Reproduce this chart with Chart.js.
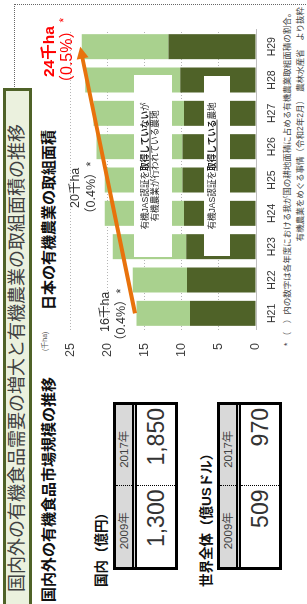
<!DOCTYPE html>
<html lang="ja">
<head>
<meta charset="utf-8">
<title>国内外の有機食品需要の増大と有機農業の取組面積の推移</title>
<script src="https://cdn.jsdelivr.net/npm/chart.js@4.4.1/dist/chart.umd.min.js"></script>
<style>
  html, body { margin: 0; padding: 0; background: #fff; }
  body {
    width: 307px; height: 604px; overflow: hidden; position: relative;
    font-family: "Liberation Sans", "Noto Sans CJK JP", sans-serif; color: #333;
  }
  /* the slide is landscape, shown turned a quarter to the left */
  #slide {
    position: absolute; left: 0; top: 604px; width: 604px; height: 307px;
    transform-origin: 0 0; transform: rotate(-90deg); background: #fff;
  }
  .abs { position: absolute; white-space: nowrap; }
  #frame { left: -5px; top: 14px; width: 605px; height: 320px; border: 1px dotted #666; box-sizing: border-box; }
  #title {
    left: -4px; top: 3px; width: 520px; height: 29px; box-sizing: border-box;
    background: #ebf1de; border: 3px solid #4f6228;
    font-size: 18px; line-height: 23px; padding-left: 13px; color: #404040;
  }
  .head { font-size: 15px; line-height: 16px; font-weight: bold; color: #111; }
  .lbl { font-size: 13.5px; line-height: 15px; font-weight: bold; color: #111; }
  .tbl {
    position: absolute; left: 34px; width: 168px; height: 65px;
    border: 3px solid #000; box-sizing: border-box; background: #fff;
  }
  .tbl .hd { display: flex; height: 16px; background: #d9d9d9; border-bottom: 5px double #000; }
  .tbl .vl { display: flex; height: 38px; }
  .tbl .cell { flex: 1; }
  .tbl .cell + .cell { border-left: 1px dotted #000; }
  .tbl .hd .cell { font-size: 11.5px; line-height: 16px; text-align: center; padding-right: 8px; color: #404040; }
  .tbl .vl .cell { font-size: 23px; line-height: 38px; text-align: right; padding-right: 3px; color: #333; }
  #areaChart { position: absolute; left: 230px; top: 50px; }
  .box {
    position: absolute; background: #fff; text-align: center;
    font-size: 8.6px; line-height: 10px; color: #222;
  }
  .box b { text-decoration: underline; text-decoration-color: #a0a0a0; text-decoration-thickness: 1.5px; }
  .red { color: #ff0000; }
  .note { font-size: 12.5px; line-height: 16px; color: #333; }
  .foot { font-size: 8.5px; line-height: 10px; color: #444; }
</style>
</head>
<body>
<div id="slide">
  <div id="frame" class="abs"></div>
  <div id="title" class="abs">国内外の有機食品需要の増大と有機農業の取組面積の推移</div>

  <div class="abs head" style="left:2px; top:41px;">国内外の有機食品市場規模の推移</div>

  <div class="abs lbl" style="left:17px; top:94px;">国内（億円）</div>
  <div class="tbl" style="top:113px;">
    <div class="hd"><div class="cell">2009年</div><div class="cell">2017年</div></div>
    <div class="vl"><div class="cell">1,300</div><div class="cell">1,850</div></div>
  </div>

  <div class="abs lbl" style="left:17px; top:199px;">世界全体（億USドル）</div>
  <div class="tbl" style="top:217px;">
    <div class="hd"><div class="cell">2009年</div><div class="cell">2017年</div></div>
    <div class="vl"><div class="cell">509</div><div class="cell">970</div></div>
  </div>

  <div class="abs head" style="left:294px; top:41px;">日本の有機農業の取組面積</div>
  <div class="abs" style="left:253px; top:41px; font-size:7px; line-height:8px; color:#555;">(千ha)</div>

  <canvas id="areaChart" width="350" height="230"></canvas>

  <div class="box" style="left:347px; top:134px; width:182px; height:38px; padding-top:6px; box-sizing:border-box;">
    有機JAS認証を<b>取得していない</b>が<br>有機農業が行われている農地
  </div>
  <div class="box" style="left:348px; top:204px; width:180px; height:26px; padding-top:3px; box-sizing:border-box;">
    有機JAS認証を<b>取得している</b>農地
  </div>

  <div class="abs red" style="left:527px; top:40px; font-size:15.5px; line-height:17px; font-weight:bold;">24千ha</div>
  <div class="abs red" style="left:513px; top:56px; font-size:16px; line-height:16px;">（0.5%）<span style="font-size:12px; vertical-align:4px;">*</span></div>

  <div class="abs note" style="left:396px; top:67px;">20千ha</div>
  <div class="abs note" style="left:384px; top:83px;">（0.4%）*</div>
  <div class="abs note" style="left:272px; top:97px;">16千ha</div>
  <div class="abs note" style="left:257px; top:113px;">（0.4%）*</div>

  <div class="abs foot" style="left:258px; top:282px;">* （　）内の数字は各年度における我が国の耕地面積に占める有機農業取組面積の割合。</div>
  <div class="abs foot" style="right:7px; top:295px;">有機農業をめぐる事情（令和2年2月）　農林水産省　より抜粋</div>
</div>

<script>
const labels = ["H21", "H22", "H23", "H24", "H25", "H26", "H27", "H28", "H29"];
// 有機JAS認証を取得している農地 (千ha)
const certified = [8.9, 9.3, 9.4, 9.7, 9.9, 9.9, 9.7, 10.2, 11.8];
// 有機JAS認証を取得していないが有機農業が行われている農地 (千ha)
const notCertified = [7.2, 7.3, 9.9, 10.7, 10.5, 11.6, 12.2, 12.8, 11.7];
const yMax = 25;
const yStep = 5;
// orange trend arrow: [category, value]
const arrowFrom = ["H21", 16.3];
const arrowTo = ["H29", 23.7];

const fontFamily = '"Liberation Sans", "Noto Sans CJK JP", sans-serif';

const trendArrow = {
  id: "trendArrow",
  afterDatasetsDraw(chart) {
    const { ctx, scales } = chart;
    const x0 = scales.x.getPixelForValue(labels.indexOf(arrowFrom[0]));
    const y0 = scales.y.getPixelForValue(arrowFrom[1]);
    const x1 = scales.x.getPixelForValue(labels.indexOf(arrowTo[0]));
    const y1 = scales.y.getPixelForValue(arrowTo[1]);
    const ang = Math.atan2(y1 - y0, x1 - x0);
    const cos = Math.cos(ang);
    const sin = Math.sin(ang);
    const head = 12;
    const half = 6;
    ctx.save();
    ctx.strokeStyle = "#e8720c";
    ctx.fillStyle = "#e8720c";
    ctx.lineWidth = 4;
    ctx.beginPath();
    ctx.moveTo(x0, y0);
    ctx.lineTo(x1 - cos * (head - 2), y1 - sin * (head - 2));
    ctx.stroke();
    ctx.beginPath();
    ctx.moveTo(x1, y1);
    ctx.lineTo(x1 - head * cos + half * sin, y1 - head * sin - half * cos);
    ctx.lineTo(x1 - head * cos - half * sin, y1 - head * sin + half * cos);
    ctx.closePath();
    ctx.fill();
    ctx.restore();
  },
};

const ctx = document.getElementById("areaChart").getContext("2d");
const areaChart = new Chart(ctx, {
  type: "bar",
  data: {
    labels: labels,
    datasets: [
      {
        label: "有機JAS認証を取得している農地",
        data: certified,
        backgroundColor: "#4f6228",
        borderWidth: 0,
      },
      {
        label: "有機JAS認証を取得していないが有機農業が行われている農地",
        data: notCertified,
        backgroundColor: "#a9d18e",
        borderWidth: 0,
      },
    ],
  },
  options: {
    responsive: false,
    animation: false,
    devicePixelRatio: 1,
    layout: { padding: { top: 15, right: 6, left: 0, bottom: 0 } },
    datasets: { bar: { barPercentage: 0.75, categoryPercentage: 1 } },
    plugins: {
      legend: { display: false },
      tooltip: { enabled: false },
    },
    scales: {
      x: {
        stacked: true,
        grid: { display: true, drawOnChartArea: false, drawTicks: false },
        border: { display: true, color: "#bfbfbf", width: 1 },
        ticks: { color: "#333", padding: 10, font: { family: fontFamily, size: 10.5 } },
        afterFit: (scale) => { scale.height = 24; },
      },
      y: {
        stacked: true,
        min: 0,
        max: yMax,
        grid: {
          drawTicks: false,
          color: (c) => (c.tick && c.tick.value === 0 ? "rgba(0,0,0,0)" : "#b5b5b5"),
        },
        border: { display: false, dash: [1, 2] },
        ticks: { stepSize: yStep, color: "#404040", padding: 13, font: { family: fontFamily, size: 12.5 } },
        afterFit: (scale) => { scale.width = 44; },
      },
    },
  },
  plugins: [trendArrow],
});
</script>
</body>
</html>
